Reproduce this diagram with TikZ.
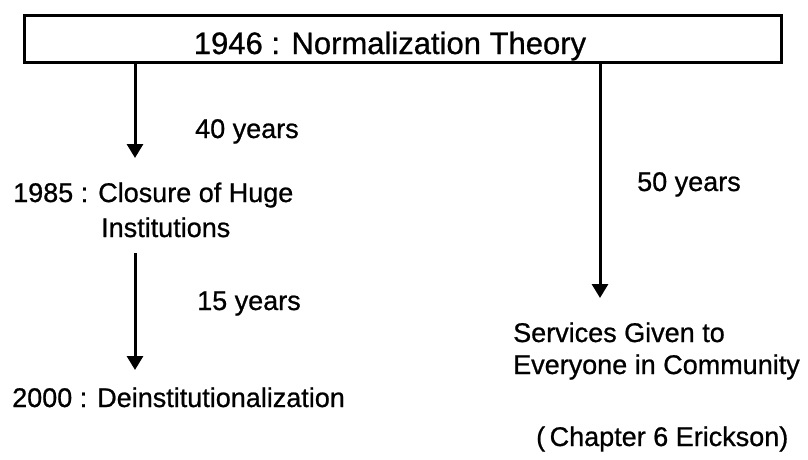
\documentclass[tikz,border=0pt]{standalone}
\usepackage{fontspec}
\setmainfont[FakeBold=0.8]{Liberation Sans}
\usetikzlibrary{arrows.meta}
\begin{document}
\begin{tikzpicture}[x=1pt,y=-1pt,
  txt/.style={font=\fontsize{27}{32}\selectfont, inner sep=0pt, anchor=base west},
  ttl/.style={font=\fontsize{31}{36}\selectfont, inner sep=0pt, anchor=base},
  frame/.style={draw, line width=3pt, inner sep=0pt},
  arr/.style={line width=3pt, -{Triangle[width=16pt,length=14pt]}}]
\useasboundingbox (0,0) rectangle (808,459);
\node[frame, minimum width=757pt, minimum height=47pt] (top) at (403,39) {};
\node[ttl] (title) at (390,54) {1946 : Normalization Theory};
% left column
\node[txt] (y40) at (195,138) {40 years};
\node[txt] (n1985) at (13,202) {1985 : Closure of Huge};
\node[txt] (inst) at (101,237) {Institutions};
\node[txt] (y15) at (197,310) {15 years};
\node[txt] (n2000) at (12,407) {2000 : Deinstitutionalization};
% right column
\node[txt] (y50) at (637,191) {50 years};
\node[txt] (serv) at (513,342) {Services Given to};
\node[txt] (every) at (513,374) {Everyone in Community};
\node[txt] (chap) at (536,446) {(\,Chapter 6 Erickson)};
% arrow ends
\coordinate (a1) at (135,158);
\coordinate (b0) at (135,253);
\coordinate (b1) at (135,370);
\coordinate (c1) at (600,298);
\draw[arr] (top.south -| a1) -- (a1);
\draw[arr] (b0) -- (b1);
\draw[arr] (top.south -| c1) -- (c1);
\end{tikzpicture}
\end{document}
